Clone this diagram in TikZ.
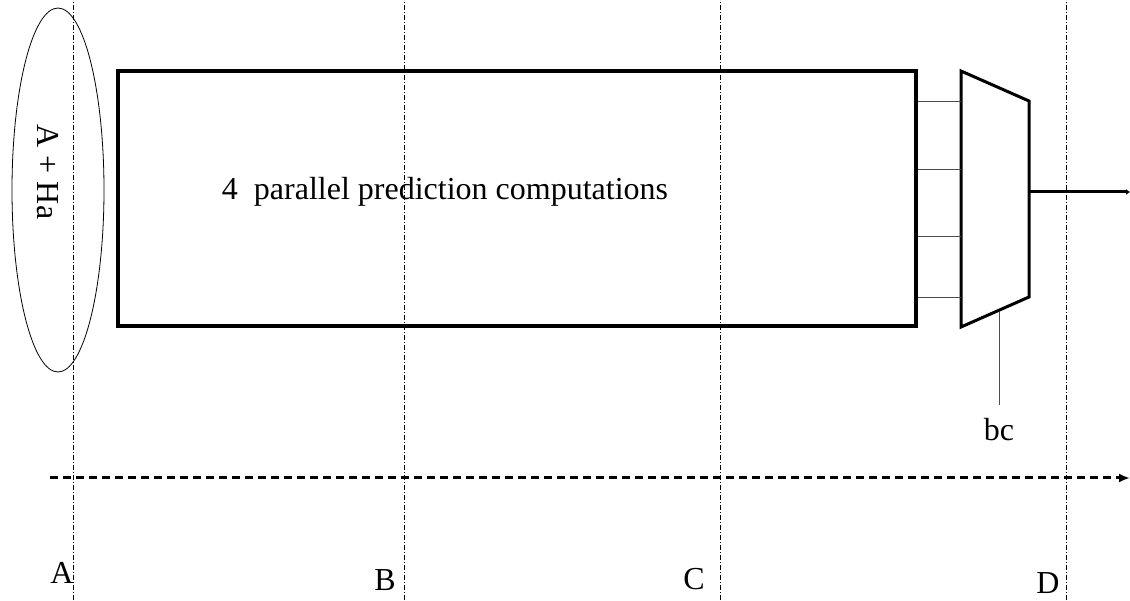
\documentclass[tikz,border=0pt]{standalone}
\usepackage{fontspec}
\setmainfont{Liberation Serif}
\usetikzlibrary{arrows.meta,shapes.geometric}
\tikzset{
  stage/.style={line width=0.6pt,dash pattern=on 5pt off 2pt on 1pt off 2pt},
  wire/.style={line width=0.8pt,gray!60!black},
  lbl/.style={inner sep=0pt,font=\fontsize{32}{36}\selectfont}
}
\begin{document}
\begin{tikzpicture}[x=1pt,y=1pt,line join=miter]
  \useasboundingbox (0,0) rectangle (1130,600);
  % stage boundaries
  \foreach \x in {73,404,720,1066}{\draw[stage] (\x,0)--(\x,600);}
  % input set
  \node[draw,ellipse,line width=0.8pt,minimum width=92,minimum height=364,inner sep=0pt] (ha) at (58,410) {};
  \node[lbl,rotate=-90] (haText) at (48,428) {A + Ha};
  % prediction block
  \node[draw,line width=4pt,minimum width=798,minimum height=255,inner sep=0pt] (pred) at (517,401.5) {};
  \node[lbl] (predText) at (445,408) {4\ \ parallel prediction computations};
  % mux corners
  \coordinate (M1) at (961,529);
  \coordinate (M2) at (1029,499);
  \coordinate (M3) at (1029,303);
  \coordinate (M4) at (961,273);
  \draw[line width=3pt] (M1)--(M2)--(M3)--(M4)--cycle;
  % mux inputs
  \foreach \i/\y in {1/499,2/431,3/364,4/303}{
    \coordinate (in\i) at (961,\y);
    \draw[wire] (pred.east |- in\i)--(in\i);
  }
  % output
  \coordinate (muxOut) at (1029,408);
  \coordinate (out) at (1130,408);
  \draw[line width=3pt,-{Latex[length=4pt,width=6pt]}] (muxOut)--(out);
  % select
  \coordinate (sel) at (999,288);
  \node[lbl] (bc) at (999,170) {bc};
  \draw[wire] (sel)--(999,195);
  % time axis
  \coordinate (t0) at (50,122);
  \coordinate (t1) at (1130,122);
  \draw[line width=3pt,dash pattern=on 8pt off 5pt,-{Latex[length=11pt,width=9pt]}] (t0)--(t1);
  % stage labels
  \foreach \n/\x/\y in {A/62/27,B/385/20,C/694/21,D/1048/17}{\node[lbl] (l\n) at (\x,\y) {\n};}
\end{tikzpicture}
\end{document}
